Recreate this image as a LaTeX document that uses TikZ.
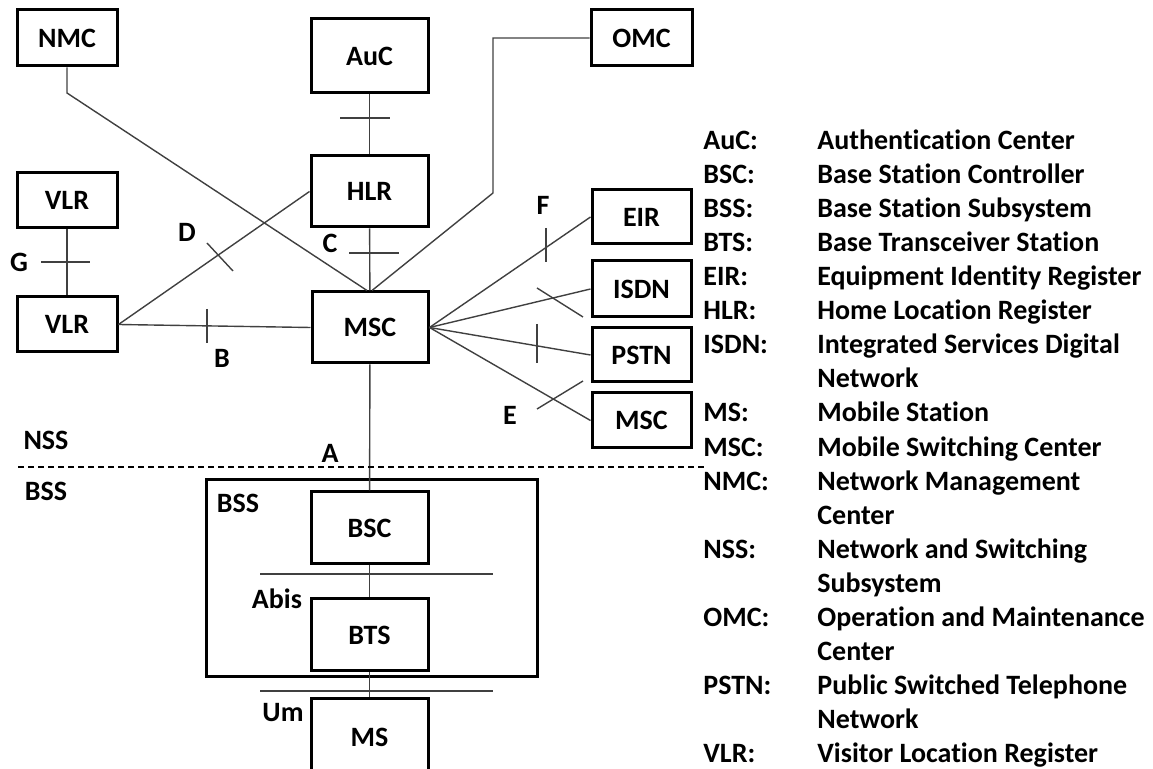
\documentclass[tikz,border=0pt]{standalone}
\usepackage{fontspec}
\setmainfont{Carlito}[Ligatures=NoCommon]
\usepackage{tikz}

\begin{document}
\begin{tikzpicture}[x=0.5pt,y=-0.5pt,
  blk/.style={draw,line width=1.5pt,inner sep=0pt,font=\fontsize{14}{17}\selectfont\bfseries},
  lnk/.style={draw=black!75,line width=0.7pt},
  lbl/.style={inner sep=0pt,font=\fontsize{14}{17}\selectfont\bfseries},
  lgd/.style={anchor=base west,inner sep=0pt,font=\fontsize{14}{17}\selectfont\bfseries}]
\clip (0,0) rectangle (1153,769);
\node[blk,minimum width=50pt,minimum height=28pt] (nmc) at (67,38) {NMC};
\node[blk,minimum width=58.5pt,minimum height=37pt] (auc) at (369.5,56) {AuC};
\node[blk,minimum width=58.5pt,minimum height=35.5pt] (hlr) at (369.5,191.5) {HLR};
\node[blk,minimum width=50.5pt,minimum height=28pt] (omc) at (641.5,38) {OMC};
\node[blk,minimum width=50pt,minimum height=27.5pt] (vlra) at (67,200.5) {VLR};
\node[blk,minimum width=50pt,minimum height=27.5pt] (vlrb) at (67,324.5) {VLR};
\node[blk,minimum width=58pt,minimum height=35.5pt] (msc) at (370,327.5) {MSC};
\node[blk,minimum width=49.5pt,minimum height=27pt] (eir) at (641.5,217) {EIR};
\node[blk,minimum width=49.5pt,minimum height=28pt] (isdn) at (641.5,289) {ISDN};
\node[blk,minimum width=49.5pt,minimum height=27pt] (pstn) at (641.5,355) {PSTN};
\node[blk,minimum width=49.5pt,minimum height=27.5pt] (mscb) at (641.5,420.5) {MSC};
\node[blk,minimum width=165.5pt,minimum height=98.5pt] (bss) at (371.5,578.5) {};
\node[blk,minimum width=58.5pt,minimum height=36pt] (bsc) at (369.5,528) {BSC};
\node[blk,minimum width=58.5pt,minimum height=36pt] (bts) at (369.5,635) {BTS};
\node[blk,minimum width=58.5pt,minimum height=38pt] (ms) at (369.5,737) {MS};
\coordinate (nmcbend) at (67,93);
\coordinate (omcbend) at (493,193);
\draw[lnk] (auc) -- (hlr);
\draw[lnk] (hlr) -- (msc);
\draw[lnk] (vlra) -- (vlrb);
\draw[lnk] (vlrb.east) -- (hlr.west);
\draw[lnk] (vlrb.east) -- (msc.west);
\draw[lnk] (nmc.south) -- (nmcbend) -- ([xshift=-1.5pt]msc.north);
\draw[lnk] (omc.west) -| (omcbend) -- ([xshift=1pt]msc.north);
\draw[lnk] (msc.east) -- (eir.west);
\draw[lnk] (msc.east) -- (isdn.west);
\draw[lnk] (msc.east) -- (pstn.west);
\draw[lnk] (msc.east) -- (mscb.west);
\draw[lnk] (msc) -- (bsc);
\draw[lnk] (bsc) -- (bts);
\draw[lnk] (bts) -- (ms);
\draw[lnk] (340,118) -- (390,118);
\draw[lnk] (349,253) -- (399,253);
\draw[lnk] (41,262) -- (90,262);
\draw[lnk] (207,243) -- (233,271);
\draw[lnk] (207,309) -- (207,343);
\draw[lnk] (546,228) -- (546,262);
\draw[lnk] (537,288) -- (583,317);
\draw[lnk] (537,324) -- (537,363);
\draw[lnk] (537,409) -- (583,381);
\draw[lnk] (260,574) -- (493,574);
\draw[lnk] (260,691) -- (493,691);
\draw[dashed,dash pattern=on 3pt off 2pt,line width=0.6pt] (18,467) -- (705,467);
\node[lbl] (lA) at (330,453) {A};
\node[lbl] (lB) at (222,358) {B};
\node[lbl] (lC) at (330,243) {C};
\node[lbl] (lD) at (187,232) {D};
\node[lbl] (lE) at (510,415) {E};
\node[lbl] (lF) at (543,205) {F};
\node[lbl] (lG) at (19,262) {G};
\node[lbl] (lnss) at (46,440) {NSS};
\node[lbl] (lbssa) at (46,491) {BSS};
\node[lbl] (lbssb) at (238,503) {BSS};
\node[lbl] (labis) at (277,599) {Abis};
\node[lbl] (lum) at (283,713) {Um};
\node[lgd] (k1) at (703,150) {AuC:};
\node[lgd] (d1) at (817,150) {Authentication Center};
\node[lgd] (k2) at (703,184) {BSC:};
\node[lgd] (d2) at (817,184) {Base Station Controller};
\node[lgd] (k3) at (703,218) {BSS:};
\node[lgd] (d3) at (817,218) {Base Station Subsystem};
\node[lgd] (k4) at (703,252) {BTS:};
\node[lgd] (d4) at (817,252) {Base Transceiver Station};
\node[lgd] (k5) at (703,286) {EIR:};
\node[lgd] (d5) at (817,286) {Equipment Identity Register};
\node[lgd] (k6) at (703,320) {HLR:};
\node[lgd] (d6) at (817,320) {Home Location Register};
\node[lgd] (k7) at (703,354) {ISDN:};
\node[lgd] (d7) at (817,354) {Integrated Services Digital};
\node[lgd] (d7b) at (817,388) {Network};
\node[lgd] (k8) at (703,422) {MS:};
\node[lgd] (d8) at (817,422) {Mobile Station};
\node[lgd] (k9) at (703,457) {MSC:};
\node[lgd] (d9) at (817,457) {Mobile Switching Center};
\node[lgd] (k10) at (703,491) {NMC:};
\node[lgd] (d10) at (817,491) {Network Management};
\node[lgd] (d10b) at (817,525) {Center};
\node[lgd] (k11) at (703,559) {NSS:};
\node[lgd] (d11) at (817,559) {Network and Switching};
\node[lgd] (d11b) at (817,593) {Subsystem};
\node[lgd] (k12) at (703,627) {OMC:};
\node[lgd] (d12) at (817,627) {Operation and Maintenance};
\node[lgd] (d12b) at (817,661) {Center};
\node[lgd] (k13) at (703,695) {PSTN:};
\node[lgd] (d13) at (817,695) {Public Switched Telephone};
\node[lgd] (d13b) at (817,729) {Network};
\node[lgd] (k14) at (703,763) {VLR:};
\node[lgd] (d14) at (817,763) {Visitor Location Register};
\end{tikzpicture}
\end{document}
